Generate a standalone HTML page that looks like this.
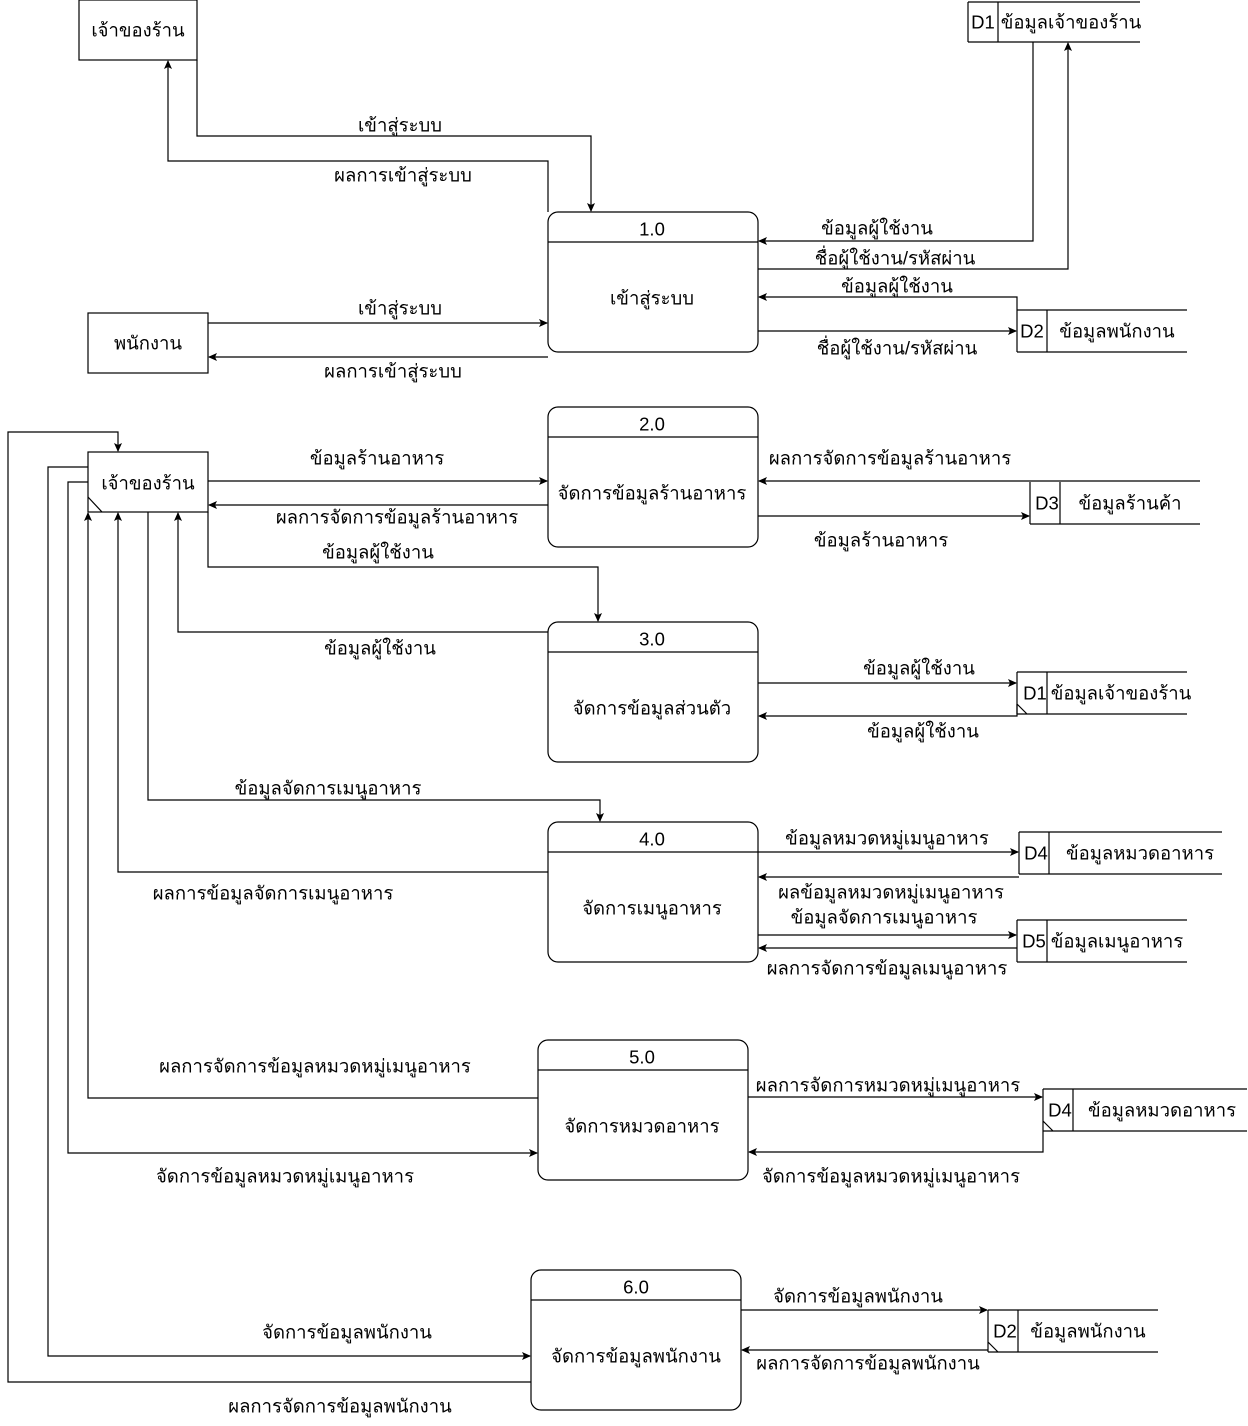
<!DOCTYPE html>
<html><head><meta charset="utf-8"><style>
html,body{margin:0;padding:0;background:#fff;}
svg text{font-family:"Liberation Sans","Noto Sans CJK SC","WenQuanYi Zen Hei",sans-serif;font-size:18.5px;fill:#000;text-anchor:middle;dominant-baseline:central;}
</style></head><body>
<svg width="1248" height="1421" viewBox="0 0 1248 1421" xmlns="http://www.w3.org/2000/svg">
<defs><marker id="a" markerWidth="10" markerHeight="10" refX="8" refY="4" orient="auto" markerUnits="userSpaceOnUse"><path d="M0,0 L9,4 L0,8 L2,4 z" fill="#000"/></marker></defs>
<g fill="none" stroke="#000" stroke-width="1.2">
<rect x="79" y="0" width="118" height="60"/>
<path d="M968,2 H1140 M968,42 H1140 M968,2 V42 M998,2 V42"/>
<rect x="548" y="212" width="210" height="140" rx="10"/><path d="M548,242 H758"/>
<path d="M1017,310 H1187 M1017,352 H1187 M1017,310 V352 M1047,310 V352"/>
<rect x="88" y="313" width="120" height="60"/>
<path d="M197,60 V136 H591 V211" marker-end="url(#a)"/>
<path d="M548,212 V161 H168 V61" marker-end="url(#a)"/>
<path d="M1033,42 V241 H759" marker-end="url(#a)"/>
<path d="M758,269 H1068 V43" marker-end="url(#a)"/>
<path d="M1017,310 V297 H759" marker-end="url(#a)"/>
<path d="M758,331 H1016" marker-end="url(#a)"/>
<path d="M208,323 H547" marker-end="url(#a)"/>
<path d="M548,357 H209" marker-end="url(#a)"/>
<rect x="88" y="452" width="120" height="60"/><path d="M88,497 L102,512"/>
<rect x="548" y="407" width="210" height="140" rx="10"/><path d="M548,437 H758"/>
<rect x="548" y="622" width="210" height="140" rx="10"/><path d="M548,652 H758"/>
<rect x="548" y="822" width="210" height="140" rx="10"/><path d="M548,852 H758"/>
<rect x="538" y="1040" width="210" height="140" rx="10"/><path d="M538,1070 H748"/>
<rect x="531" y="1270" width="210" height="140" rx="10"/><path d="M531,1300 H741"/>
<path d="M1030,524 H1200 M1030,482 V524 M1060,482 V524"/>
<path d="M1017,672 H1187 M1017,714 H1187 M1017,672 V714 M1047,672 V714 M1017,704 L1027,714"/>
<path d="M1019,832 H1222 M1019,874 H1222 M1019,832 V874 M1049,832 V874"/>
<path d="M1017,920 H1187 M1017,962 H1187 M1017,920 V962 M1047,920 V962"/>
<path d="M1043,1089 H1247 M1043,1131 H1247 M1043,1089 V1131 M1073,1089 V1131 M1043,1121 L1053,1131"/>
<path d="M988,1310 H1158 M988,1352 H1158 M988,1310 V1352 M1018,1310 V1352 M988,1342 L998,1352"/>
<path d="M531,1382 H8 V432 H118 V451" marker-end="url(#a)"/>
<path d="M88,467 H48 V1356 H530" marker-end="url(#a)"/>
<path d="M88,482 H68 V1153 H537" marker-end="url(#a)"/>
<path d="M538,1098 H88 V513" marker-end="url(#a)"/>
<path d="M548,872 H118 V513" marker-end="url(#a)"/>
<path d="M148,512 V800 H600 V821" marker-end="url(#a)"/>
<path d="M548,632 H178 V513" marker-end="url(#a)"/>
<path d="M208,512 V567 H598 V621" marker-end="url(#a)"/>
<path d="M208,481 H547" marker-end="url(#a)"/>
<path d="M548,505 H209" marker-end="url(#a)"/>
<path d="M1200,481 H759" marker-end="url(#a)"/>
<path d="M758,516 H1029" marker-end="url(#a)"/>
<path d="M758,683 H1016" marker-end="url(#a)"/>
<path d="M1017,704 V716 H759" marker-end="url(#a)"/>
<path d="M758,852 H1018" marker-end="url(#a)"/>
<path d="M1019,877 H759" marker-end="url(#a)"/>
<path d="M758,935 H1016" marker-end="url(#a)"/>
<path d="M1017,948 H759" marker-end="url(#a)"/>
<path d="M748,1097 H1042" marker-end="url(#a)"/>
<path d="M1043,1131 V1152 H749" marker-end="url(#a)"/>
<path d="M741,1310 H987" marker-end="url(#a)"/>
<path d="M988,1350 H742" marker-end="url(#a)"/>
</g>
<text x="138" y="30">เจ้าของร้าน</text>
<text x="983" y="22">D1</text><text x="1071" y="22">ข้อมูลเจ้าของร้าน</text>
<text x="652" y="229">1.0</text><text x="652" y="298">เข้าสู่ระบบ</text>
<text x="1032" y="331">D2</text><text x="1117" y="331">ข้อมูลพนักงาน</text>
<text x="148" y="343">พนักงาน</text>
<text x="400" y="125">เข้าสู่ระบบ</text>
<text x="403" y="175">ผลการเข้าสู่ระบบ</text>
<text x="877" y="228">ข้อมูลผู้ใช้งาน</text>
<text x="895" y="258">ชื่อผู้ใช้งาน/รหัสผ่าน</text>
<text x="897" y="286">ข้อมูลผู้ใช้งาน</text>
<text x="897" y="348">ชื่อผู้ใช้งาน/รหัสผ่าน</text>
<text x="400" y="308">เข้าสู่ระบบ</text>
<text x="393" y="371">ผลการเข้าสู่ระบบ</text>
<text x="148" y="483">เจ้าของร้าน</text>
<text x="652" y="424">2.0</text><text x="652" y="493">จัดการข้อมูลร้านอาหาร</text>
<text x="652" y="639">3.0</text><text x="652" y="708">จัดการข้อมูลส่วนตัว</text>
<text x="652" y="839">4.0</text><text x="652" y="908">จัดการเมนูอาหาร</text>
<text x="642" y="1057">5.0</text><text x="642" y="1126">จัดการหมวดอาหาร</text>
<text x="636" y="1287">6.0</text><text x="636" y="1356">จัดการข้อมูลพนักงาน</text>
<text x="1047" y="503">D3</text><text x="1130" y="503">ข้อมูลร้านค้า</text>
<text x="1035" y="693">D1</text><text x="1121" y="693">ข้อมูลเจ้าของร้าน</text>
<text x="1036" y="853">D4</text><text x="1140" y="853">ข้อมูลหมวดอาหาร</text>
<text x="1034" y="941">D5</text><text x="1117" y="941">ข้อมูลเมนูอาหาร</text>
<text x="1060" y="1110">D4</text><text x="1162" y="1110">ข้อมูลหมวดอาหาร</text>
<text x="1005" y="1331">D2</text><text x="1088" y="1331">ข้อมูลพนักงาน</text>
<text x="377" y="458">ข้อมูลร้านอาหาร</text>
<text x="397" y="517">ผลการจัดการข้อมูลร้านอาหาร</text>
<text x="378" y="552">ข้อมูลผู้ใช้งาน</text>
<text x="380" y="648">ข้อมูลผู้ใช้งาน</text>
<text x="328" y="788">ข้อมูลจัดการเมนูอาหาร</text>
<text x="273" y="893">ผลการข้อมูลจัดการเมนูอาหาร</text>
<text x="315" y="1066">ผลการจัดการข้อมูลหมวดหมู่เมนูอาหาร</text>
<text x="285" y="1176">จัดการข้อมูลหมวดหมู่เมนูอาหาร</text>
<text x="347" y="1332">จัดการข้อมูลพนักงาน</text>
<text x="340" y="1406">ผลการจัดการข้อมูลพนักงาน</text>
<text x="890" y="458">ผลการจัดการข้อมูลร้านอาหาร</text>
<text x="881" y="540">ข้อมูลร้านอาหาร</text>
<text x="919" y="668">ข้อมูลผู้ใช้งาน</text>
<text x="923" y="731">ข้อมูลผู้ใช้งาน</text>
<text x="887" y="838">ข้อมูลหมวดหมู่เมนูอาหาร</text>
<text x="891" y="892">ผลข้อมูลหมวดหมู่เมนูอาหาร</text>
<text x="884" y="917">ข้อมูลจัดการเมนูอาหาร</text>
<text x="887" y="968">ผลการจัดการข้อมูลเมนูอาหาร</text>
<text x="888" y="1085">ผลการจัดการหมวดหมู่เมนูอาหาร</text>
<text x="891" y="1176">จัดการข้อมูลหมวดหมู่เมนูอาหาร</text>
<text x="858" y="1296">จัดการข้อมูลพนักงาน</text>
<text x="868" y="1363">ผลการจัดการข้อมูลพนักงาน</text>
</svg>
</body></html>
